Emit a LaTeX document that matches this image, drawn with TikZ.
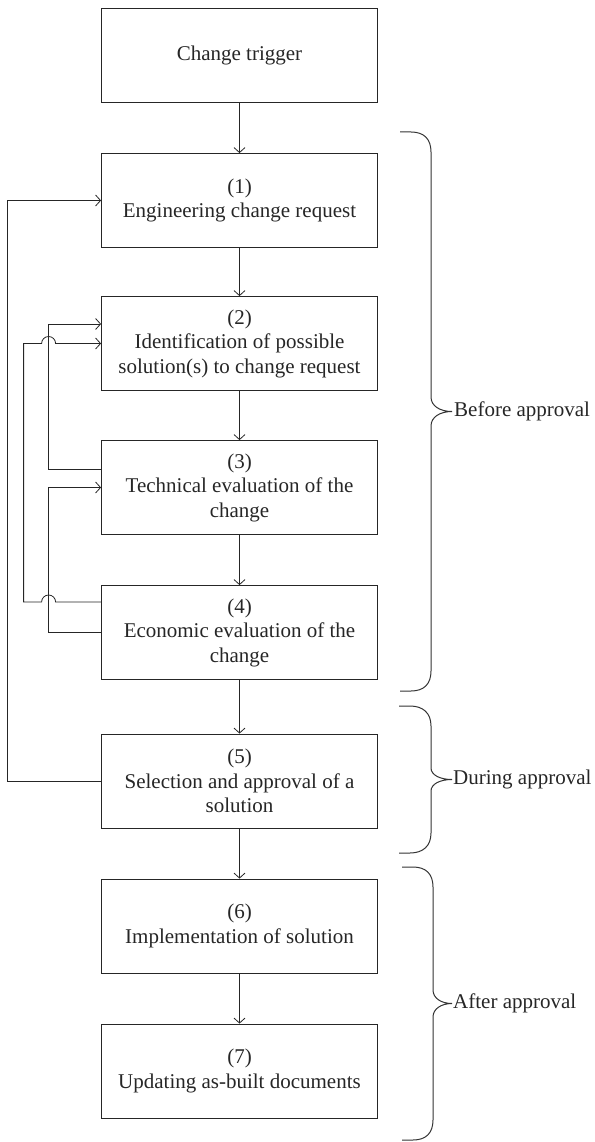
\documentclass[tikz,border=0pt]{standalone}
\usepackage{fontspec}
\setmainfont{Liberation Serif}
\usetikzlibrary{arrows.meta}
\begin{document}
\begin{tikzpicture}[x=1pt,y=1pt,
  box/.style={draw=black!85, line width=0.8pt, minimum width=276pt, minimum height=94pt,
    align=center, inner sep=0pt, text=black!85, font=\fontsize{21}{24.5}\selectfont},
  arr/.style={draw=black!85, line width=0.8pt, -{Straight Barb[length=5pt,width=11pt]}},
  ln/.style={draw=black!85, line width=0.8pt},
  brace/.style={draw=black!80, line width=1pt},
  lab/.style={anchor=west, inner sep=1pt, text=black!85, font=\fontsize{21}{24.5}\selectfont}]
\useasboundingbox (0,0) rectangle (594,-1142);

\node[box] (bt) at (239.5,-55.5) {Change trigger};
\node[box] (b1) at (239.5,-200.5) {(1)\\Engineering change request};
\node[box] (b2) at (239.5,-343.5) {(2)\\Identification of possible\\solution(s) to change request};
\node[box] (b3) at (239.5,-487.5) {(3)\\Technical evaluation of the\\change};
\node[box] (b4) at (239.5,-632.5) {(4)\\Economic evaluation of the\\change};
\node[box] (b5) at (239.5,-781) {(5)\\Selection and approval of a\\solution};
\node[box] (b6) at (239.5,-926) {(6)\\Implementation of solution};
\node[box] (b7) at (239.5,-1071) {(7)\\Updating as-built documents};

\draw[arr] (bt) -- (b1);
\draw[arr] (b1) -- (b2);
\draw[arr] (b2) -- (b3);
\draw[arr] (b3) -- (b4);
\draw[arr] (b4) -- (b5);
\draw[arr] (b5) -- (b6);
\draw[arr] (b6) -- (b7);

% feedback loops
\draw[arr] (b5.west) -- ++(-93.5,0) |- (b1.west);
\draw[arr] ([yshift=18.5pt]b3.west) -| ([xshift=-52.5pt,yshift=19.5pt]b2.west) -- ([yshift=19.5pt]b2.west);
\draw[arr] (b4.west) -- ++(-52.5,0) |- (b3.west);
\draw[arr] ([yshift=30.5pt]b4.west) -- ++(-45.5,0) arc[start angle=0,end angle=180,radius=7]
  -- ++(-18,0) |- ([xshift=-59.5pt]b2.west) arc[start angle=180,end angle=0,radius=7] -- (b2.west);

% braces
\draw[brace] (400,-132) -- (411,-132) .. controls (424,-132) and (431,-139) .. (431,-152)
  -- (431,-397) .. controls (431,-406) and (440,-411.5) .. (452,-411.5)
  .. controls (440,-411.5) and (431,-417) .. (431,-426)
  -- (431,-671) .. controls (431,-684) and (424,-691) .. (411,-691) -- (400,-691);
\node[lab] (lbefore) at (453,-411.5) {Before approval};

\draw[brace] (399,-706) -- (410,-706) .. controls (423,-706) and (431,-713) .. (431,-726)
  -- (431,-768) .. controls (431,-775) and (440,-779.5) .. (452,-779.5)
  .. controls (440,-779.5) and (431,-784) .. (431,-791)
  -- (431,-833) .. controls (431,-846) and (423,-853) .. (410,-853) -- (399,-853);
\node[lab] (lduring) at (452,-779.5) {During approval};

\draw[brace] (402,-867) -- (413,-867) .. controls (426,-867) and (433,-874) .. (433,-887)
  -- (433,-990) .. controls (433,-998) and (441,-1003.5) .. (452,-1003.5)
  .. controls (441,-1003.5) and (433,-1009) .. (433,-1017)
  -- (433,-1120) .. controls (433,-1133) and (426,-1140) .. (413,-1140) -- (402,-1140);
\node[lab] (lafter) at (452,-1003.5) {After approval};
\end{tikzpicture}
\end{document}
